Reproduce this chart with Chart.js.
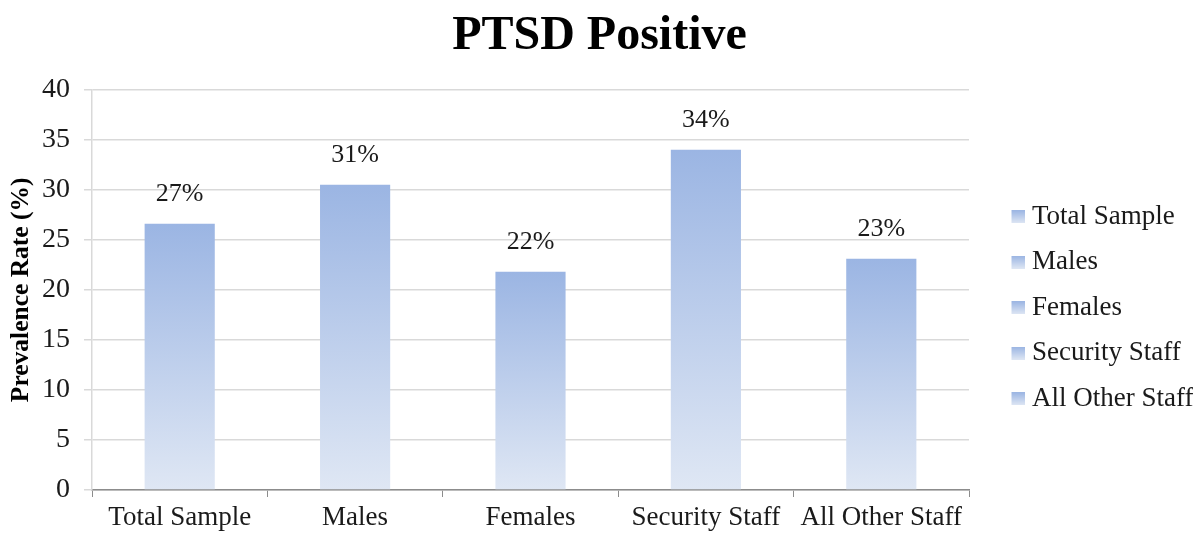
<!DOCTYPE html>
<html>
<head>
<meta charset="utf-8">
<script src="https://cdn.jsdelivr.net/npm/chart.js@4.4.0/dist/chart.umd.min.js"></script>
<style>
  html, body { margin: 0; padding: 0; background: #fff; }
  #wrap { width: 1196px; height: 535px; position: relative; }
</style>
</head>
<body>
<div id="wrap"><canvas id="myChart"></canvas></div>
<script>
const categories = ['Total Sample', 'Males', 'Females', 'Security Staff', 'All Other Staff'];
const values = [26.6, 30.5, 21.8, 34.0, 23.1];
const yTicks = [0, 5, 10, 15, 20, 25, 30, 35, 40];

const topBlue = '#9bb5e3';
const bottomBlue = '#dfe7f4';
const textColor = '#1a1a1a';
const serif = "'Liberation Serif', 'Times New Roman', serif";

// gradient square for the legend, drawn at the right of a wider image
// so that the gap to the text is smaller than chart.js' default
function legendSwatch() {
  const c = document.createElement('canvas');
  c.width = 25;
  c.height = 13;
  const g = c.getContext('2d');
  const grad = g.createLinearGradient(0, 0, 0, 13);
  grad.addColorStop(0, topBlue);
  grad.addColorStop(1, bottomBlue);
  g.fillStyle = grad;
  g.fillRect(12, 0, 13, 13);
  return c;
}
const swatch = legendSwatch();

// gradient from each bar's top to the axis
function barFill(context) {
  const chart = context.chart;
  if (!chart.chartArea || context.dataIndex === undefined) return topBlue;
  const y = chart.scales.y;
  const top = y.getPixelForValue(values[context.dataIndex]);
  const base = y.getPixelForValue(0);
  const grad = chart.ctx.createLinearGradient(0, top, 0, base);
  grad.addColorStop(0, topBlue);
  grad.addColorStop(1, bottomBlue);
  return grad;
}

const valueLabels = {
  id: 'valueLabels',
  afterDatasetsDraw(chart) {
    const ctx = chart.ctx;
    const meta = chart.getDatasetMeta(0);
    ctx.save();
    ctx.font = '26px ' + serif;
    ctx.fillStyle = textColor;
    ctx.textAlign = 'center';
    ctx.textBaseline = 'alphabetic';
    meta.data.forEach((bar, i) => {
      ctx.fillText(Math.round(values[i]) + '%', bar.x, bar.y - 23);
    });
    ctx.restore();
  }
};

const ctx = document.getElementById('myChart').getContext('2d');
const myChart = new Chart(ctx, {
  type: 'bar',
  data: {
    labels: categories,
    datasets: [
      {
        data: values,
        backgroundColor: barFill,
        barPercentage: 0.4,
        categoryPercentage: 1,
      },
    ],
  },
  options: {
    responsive: true,
    maintainAspectRatio: false,
    animation: false,
    layout: {
      padding: { left: 6, right: 3, top: 0, bottom: 0 },
    },
    plugins: {
      title: {
        display: true,
        text: 'PTSD Positive',
        color: '#000',
        font: { family: serif, size: 48, weight: 'bold' },
        padding: { top: 8, bottom: 24 },
      },
      legend: {
        position: 'right',
        fullSize: false,
        maxWidth: 206,
        // blank title only pushes the items down a little
        title: {
          display: true,
          text: ' ',
          color: textColor,
          padding: 0,
          font: { family: serif, size: 30 },
        },
        labels: {
          color: textColor,
          font: { family: serif, size: 27 },
          usePointStyle: true,
          boxWidth: 13,
          pointStyleWidth: 13,
          padding: 18.5,
          generateLabels: () =>
            categories.map((c, i) => ({
              text: c,
              pointStyle: swatch,
              fillStyle: topBlue,
              strokeStyle: topBlue,
              fontColor: textColor,
              lineWidth: 0,
              hidden: false,
              index: i,
              datasetIndex: 0,
            })),
        },
        onClick: () => {},
      },
      tooltip: { enabled: false },
    },
    scales: {
      x: {
        grid: {
          offset: true,
          drawOnChartArea: false,
          drawTicks: true,
          tickLength: 7,
          color: '#8c8c8c',
        },
        border: { color: '#8c8c8c', width: 1.5 },
        ticks: {
          color: textColor,
          font: { family: serif, size: 27 },
          padding: 5,
          maxRotation: 0,
        },
        afterFit: (axis) => {
          axis.height = 45;
        },
      },
      y: {
        min: 0,
        max: 40,
        afterBuildTicks: (axis) => {
          axis.ticks = yTicks.map((v) => ({ value: v }));
        },
        grid: {
          color: '#d9d9d9',
          lineWidth: 1.5,
          tickLength: 8,
        },
        border: { color: '#d9d9d9', width: 1.5 },
        ticks: {
          color: textColor,
          font: { family: serif, size: 28 },
          padding: 14,
        },
        title: {
          display: true,
          text: 'Prevalence Rate (%)',
          color: '#000',
          font: { family: serif, size: 25.5, weight: 'bold' },
          padding: { top: 0, bottom: 6 },
        },
        afterFit: (axis) => {
          axis.width = 86;
        },
      },
      // empty axis used only as a gap between the plot and the legend
      gap: {
        type: 'linear',
        position: 'right',
        grid: { display: false },
        border: { display: false },
        ticks: { display: false },
        afterFit: (axis) => {
          axis.width = 18;
        },
      },
    },
  },
  plugins: [valueLabels],
});
</script>
</body>
</html>
